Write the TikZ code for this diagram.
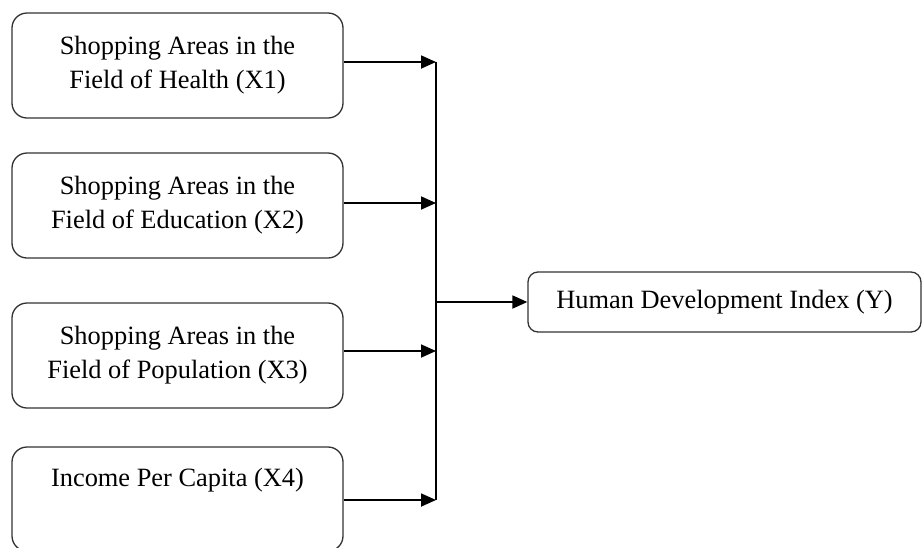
\documentclass[tikz,border=0pt]{standalone}
\usepackage{fontspec}
\setmainfont{Liberation Serif}
\usetikzlibrary{arrows.meta}
\begin{document}
\begin{tikzpicture}[x=1pt,y=-1pt,
  box/.style={draw=black!80,line width=1.3pt,rounded corners=15pt,align=center,
    inner sep=0pt,font=\fontsize{26.4}{34}\selectfont,text=black},
  arr/.style={line width=1.8pt,-{Triangle[length=15pt,width=13pt]}},
  ln/.style={line width=1.8pt}]
\useasboundingbox (0,0) rectangle (922,547);
\node[box,minimum width=331pt,minimum height=105pt] (b1) at (177.5,65.5)
  {Shopping Areas in the\\Field of Health (X1)};
\node[box,minimum width=331pt,minimum height=105pt] (b2) at (177.5,205.5)
  {Shopping Areas in the\\Field of Education (X2)};
\node[box,minimum width=331pt,minimum height=105pt] (b3) at (177.5,355.5)
  {Shopping Areas in the\\Field of Population (X3)};
\node[box,minimum width=331pt,minimum height=104pt] (b4) at (177.5,499)
  {Income Per Capita (X4)\\\strut};
\node[box,rounded corners=10pt,minimum width=393pt,minimum height=60pt] (y) at (724.5,302)
  {Human Development Index (Y)};
\coordinate (j1) at (436,62);
\coordinate (j2) at (436,203);
\coordinate (j3) at (436,351);
\coordinate (j4) at (436,500);
\coordinate (jm) at (436,302);
\draw[arr] (b1.east |- j1) -- (j1);
\draw[arr] (b2.east |- j2) -- (j2);
\draw[arr] (b3.east |- j3) -- (j3);
\draw[arr] (b4.east |- j4) -- (j4);
\draw[ln] (j1) -- (j4);
\draw[arr] (jm) -- (y.west);
\end{tikzpicture}
\end{document}
